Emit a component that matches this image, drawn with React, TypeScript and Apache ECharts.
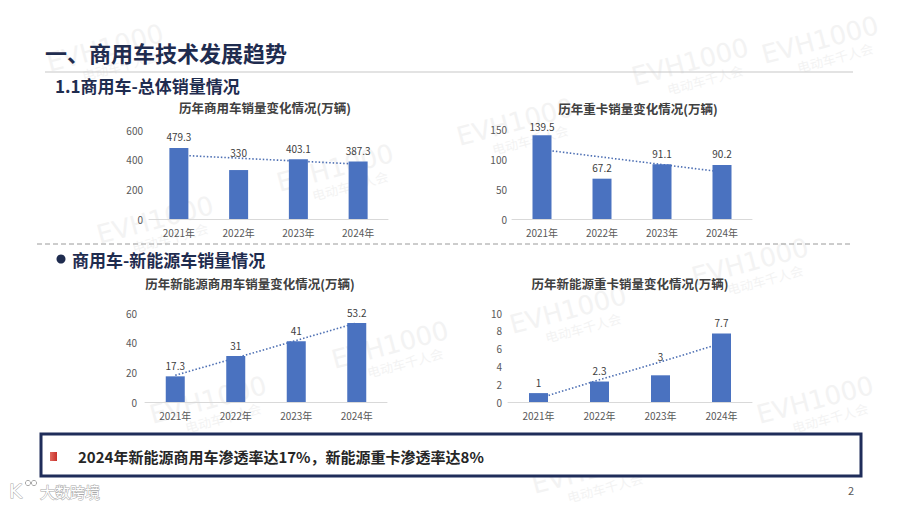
import React, { useEffect, useRef } from "react";
import * as echarts from "echarts";

const years = ["2021年", "2022年", "2023年", "2024年"];

const cvSales = [479.3, 330, 403.1, 387.3];
const cvTrend = [430, 410, 390, 370];
const cvAxis = [0, 600, 200];

const hdtSales = [139.5, 67.2, 91.1, 90.2];
const hdtTrend = [115.6, 103.2, 90.8, 78.4];
const hdtAxis = [0, 150, 50];

const nevCvSales = [17.3, 31, 41, 53.2];
const nevCvTrend = [18, 29.7, 41.5, 53.3];
const nevCvAxis = [0, 60, 20];

const nevHdtSales = [1, 2.3, 3, 7.7];
const nevHdtTrend = [0.4, 2.5, 4.5, 6.6];
const nevHdtAxis = [0, 10, 2];

const pageTitle = "一、商用车技术发展趋势";
const section1 = "1.1商用车-总体销量情况";
const section2 = "商用车-新能源车销量情况";
const chartTitles = [
  "历年商用车销量变化情况(万辆)",
  "历年重卡销量变化情况(万辆)",
  "历年新能源商用车销量变化情况(万辆)",
  "历年新能源重卡销量变化情况(万辆)",
];
const noteText = "2024年新能源商用车渗透率达17%，新能源重卡渗透率达8%";
const pageNo = "2";

const FONT = "'Noto Sans CJK SC', 'Noto Sans', sans-serif";
const NAVY = "#1f2c4f";
const BAR = "#4a72c0";

const specs = [
  { values: cvSales, trend: cvTrend, axis: cvAxis, grid: { left: 149, top: 130, width: 239, height: 89 }, tx: 265, ty: 107, margin: 6, lifts: [0, 7, 0, 0] },
  { values: hdtSales, trend: hdtTrend, axis: hdtAxis, grid: { left: 512, top: 129, width: 240, height: 90 }, tx: 638, ty: 108, margin: 5, lifts: [-2, 0, 0, 0] },
  { values: nevCvSales, trend: nevCvTrend, axis: nevCvAxis, grid: { left: 145, top: 313, width: 242, height: 89 }, tx: 250, ty: 283, margin: 8, lifts: [0, 0, 0, 0] },
  { values: nevHdtSales, trend: nevHdtTrend, axis: nevHdtAxis, grid: { left: 508, top: 313, width: 244, height: 89 }, tx: 630, ty: 283, margin: 6, lifts: [0, 0, 8, 0] },
];

const watermarks = [
  [105, 48], [335, 168], [155, 220], [690, 62], [515, 122], [820, 40],
  [390, 345], [208, 400], [568, 310], [750, 262], [815, 400], [590, 470],
];

function text(x: number, y: number, t: string, size: number, color: string, weight: any = "normal", align = "left", z = 10) {
  return {
    type: "text",
    x,
    y,
    z,
    style: {
      text: t,
      fill: color,
      fontSize: size,
      fontWeight: weight,
      fontFamily: FONT,
      align,
      verticalAlign: "middle",
    },
  };
}

export default function App() {
  const ref = useRef<HTMLDivElement>(null);

  useEffect(() => {
    if (!ref.current) return;
    const chart = echarts.init(ref.current, null, { renderer: "svg" });

    const grids = specs.map((s) => ({ ...s.grid, containLabel: false }));
    const xAxes = specs.map((s, i) => ({
      type: "category",
      gridIndex: i,
      data: years,
      axisLine: { lineStyle: { color: "#d9d9d9", width: 1 } },
      axisTick: { show: false },
      axisLabel: { fontSize: 10, color: "#595959", margin: 8, fontFamily: FONT },
    }));
    const yAxes = specs.map((s, i) => ({
      type: "value",
      gridIndex: i,
      min: s.axis[0],
      max: s.axis[1],
      interval: s.axis[2],
      splitLine: { show: false },
      axisLine: { show: false },
      axisTick: { show: false },
      axisLabel: { fontSize: 10, color: "#595959", margin: s.margin, fontFamily: FONT },
    }));
    const series: any[] = [];
    specs.forEach((s, i) => {
      series.push({
        type: "bar",
        xAxisIndex: i,
        yAxisIndex: i,
        barWidth: 19,
        z: 3,
        itemStyle: { color: BAR },
        data: s.values.map((v, j) => ({
          value: v,
          label: { offset: [0, -s.lifts[j]] },
        })),
        label: {
          show: true,
          position: "top",
          distance: 6,
          fontSize: 10,
          color: "#404040",
          fontFamily: FONT,
        },
      });
      series.push({
        type: "line",
        xAxisIndex: i,
        yAxisIndex: i,
        z: 2,
        silent: true,
        symbol: "none",
        data: s.trend,
        lineStyle: { color: "#4d6fb3", width: 1.6, type: [1.5, 2] },
      });
    });

    const graphics: any[] = [];
    watermarks.forEach(([x, y]) => {
      graphics.push({
        type: "group",
        x,
        y,
        rotation: 0.26,
        z: 0,
        silent: true,
        children: [
          {
            type: "text",
            x: 0,
            y: 0,
            style: {
              text: "EVH1000",
              fill: "#f3f3f3",
              fontSize: 26,
              fontFamily: "'DejaVu Sans', sans-serif",
              align: "center",
              verticalAlign: "middle",
            },
          },
          {
            type: "text",
            x: 10,
            y: 21,
            style: {
              text: "电动车千人会",
              fill: "#f3f3f3",
              fontSize: 13,
              fontFamily: FONT,
              align: "center",
              verticalAlign: "middle",
            },
          },
        ],
      });
    });

    graphics.push(text(45, 52, pageTitle, 22, NAVY, "bold"));
    graphics.push({
      type: "line",
      z: 10,
      shape: { x1: 45, y1: 72, x2: 853, y2: 72 },
      style: { stroke: "#c8c8c8", lineWidth: 1.2 },
    });
    graphics.push(text(55, 85, section1, 17, NAVY, "bold"));
    specs.forEach((s, i) => {
      graphics.push(text(s.tx, s.ty, chartTitles[i], 12.5, "#404040", "bold", "center"));
    });
    graphics.push({
      type: "line",
      z: 10,
      shape: { x1: 37, y1: 244, x2: 850, y2: 244 },
      style: { stroke: "#9a9a9a", lineWidth: 1, lineDash: [5, 3] },
    });
    graphics.push({
      type: "circle",
      z: 10,
      shape: { cx: 61, cy: 259, r: 4.5 },
      style: { fill: NAVY },
    });
    graphics.push(text(72, 259, section2, 17, NAVY, "bold"));

    graphics.push({
      type: "rect",
      z: 10,
      shape: { x: 41, y: 434, width: 820, height: 42 },
      style: { fill: "#ffffff", stroke: "#1f2d5a", lineWidth: 3 },
    });
    graphics.push({
      type: "rect",
      z: 11,
      shape: { x: 50, y: 452, width: 7, height: 9 },
      style: {
        fill: new echarts.graphic.LinearGradient(0, 0, 1, 0, [
          { offset: 0, color: "#e06a5f" },
          { offset: 1, color: "#c8302a" },
        ]),
      },
    });
    graphics.push(text(78, 456, noteText, 15, "#262626", "bold", "left", 11));
    graphics.push(text(851, 490, pageNo, 11, "#595959", "normal", "center"));

    // bottom-left logo
    graphics.push({
      type: "text",
      x: 9,
      y: 491,
      z: 11,
      style: {
        text: "K",
        fill: "#ffffff",
        stroke: "#a8a8a8",
        lineWidth: 1,
        fontSize: 20,
        fontFamily: "'DejaVu Sans', sans-serif",
        verticalAlign: "middle",
      },
    });
    graphics.push({ type: "circle", z: 11, shape: { cx: 28, cy: 483, r: 2.6 }, style: { fill: "#fff", stroke: "#a8a8a8", lineWidth: 1 } });
    graphics.push({ type: "circle", z: 11, shape: { cx: 34, cy: 483, r: 2.6 }, style: { fill: "#fff", stroke: "#a8a8a8", lineWidth: 1 } });
    graphics.push({
      type: "text",
      x: 40,
      y: 491,
      z: 11,
      style: {
        text: "大数跨境",
        fill: "#ffffff",
        stroke: "#a8a8a8",
        lineWidth: 1,
        fontSize: 15,
        fontFamily: FONT,
        verticalAlign: "middle",
      },
    });

    chart.setOption({
      animation: false,
      backgroundColor: "#ffffff",
      textStyle: { fontFamily: FONT },
      grid: grids,
      xAxis: xAxes,
      yAxis: yAxes,
      series,
      graphic: { elements: graphics },
    });

    return () => chart.dispose();
  }, []);

  return (
    <div
      ref={ref}
      style={{ position: "fixed", left: 0, top: 0, width: 900, height: 507, background: "#fff" }}
    />
  );
}
